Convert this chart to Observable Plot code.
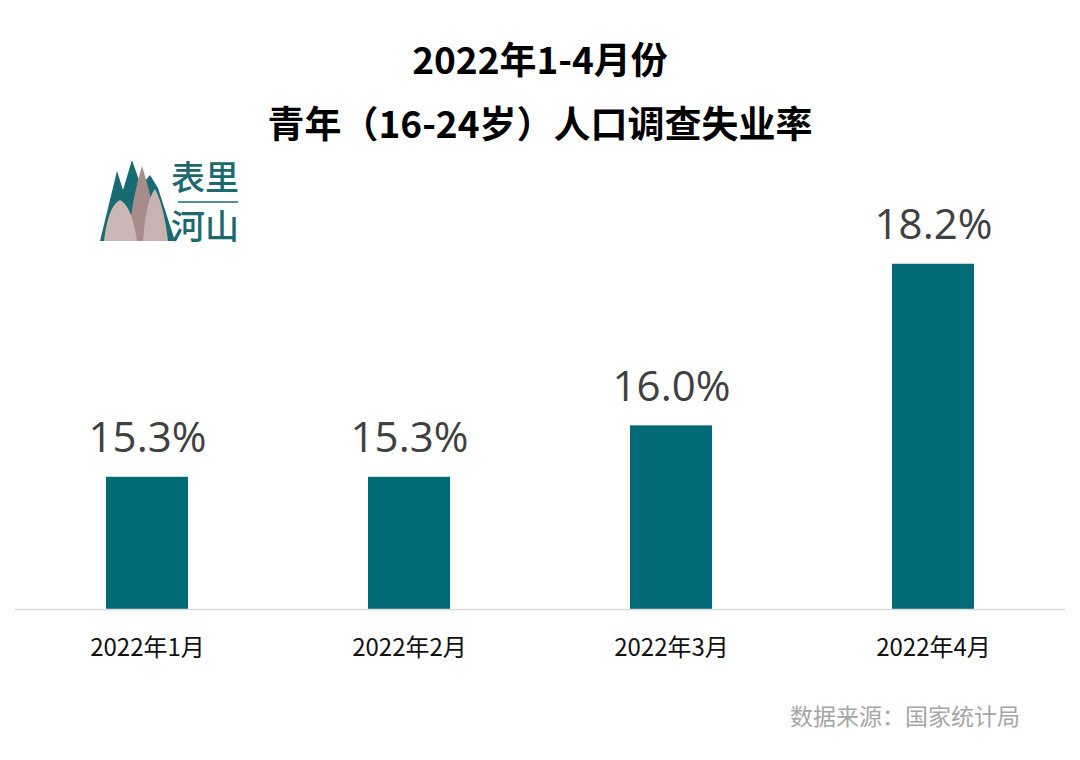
<!DOCTYPE html>
<html>
<head>
<meta charset="utf-8">
<script src="https://cdn.jsdelivr.net/npm/d3@7"></script>
<script src="https://cdn.jsdelivr.net/npm/@observablehq/plot@0.6"></script>
<style>
  html, body { margin: 0; padding: 0; background: #fff; }
  body { width: 1080px; height: 760px; position: relative; overflow: hidden; font-family: "Noto Sans CJK SC", "Noto Sans", sans-serif; }
  .title { position: absolute; left: 0; width: 1080px; text-align: center; font-weight: 700; font-size: 37px; line-height: 44px; color: #000; }
  #t1 { top: 36px; }
  #t2 { top: 100px; }
  #chart { position: absolute; left: 0; top: 150px; }
  #logo { position: absolute; left: 95px; top: 150px; }
  #caption { position: absolute; right: 60px; top: 700px; font-size: 23px; line-height: 30px; color: #a6a6a6; }
</style>
</head>
<body>
<div class="title" id="t1">2022年1-4月份</div>
<div class="title" id="t2">青年（16-24岁）人口调查失业率</div>
<svg id="logo" width="160" height="100" viewBox="95 150 160 100">
  <path d="M100,241 L117,171 L123,190 L132,160 L141,186 L150,175 L158,188 L175,241 Z" fill="#176b72"/>
  <path d="M128,241 Q132,198 142,166 Q153,200 159,241 Z" fill="#a68d89"/>
  <path d="M104,241 Q108,206 120,200 Q132,206 137,241 Z" fill="#cbb7b3"/>
  <path d="M143,241 Q146,200 155,189 Q164,206 168,241 Z" fill="#c7b3af"/>
  <text x="171" y="190" font-size="34" font-weight="500" fill="#1d6a6e" font-family="Noto Sans CJK SC">表里</text>
  <line x1="178" x2="238" y1="202" y2="202" stroke="#1d6a6e" stroke-width="1.5"/>
  <text x="171" y="239" font-size="34" font-weight="500" fill="#1d6a6e" font-family="Noto Sans CJK SC">河山</text>
</svg>
<div id="chart"></div>
<div id="caption">数据来源：国家统计局</div>
<script>
const months = ["2022年1月", "2022年2月", "2022年3月", "2022年4月"];
const rates = [15.3, 15.3, 16.0, 18.2];
const yFloor = 13.5;
const yCeil = 19;

const data = months.map((m, i) => ({month: m, rate: rates[i]}));

const chart = Plot.plot({
  width: 1080,
  height: 520,
  marginLeft: 15,
  marginRight: 15,
  marginTop: 55,
  marginBottom: 61,
  x: {domain: months, paddingInner: 0.6876, paddingOuter: 0.3438, label: null},
  y: {domain: [yFloor, yCeil], axis: null},
  style: {fontFamily: "Noto Sans CJK SC, sans-serif", background: "transparent"},
  marks: [
    Plot.barY(data, {x: "month", y1: yFloor, y2: "rate", fill: "#036b77"}),
    Plot.ruleY([yFloor], {stroke: "#d9d9d9", strokeWidth: 1.5}),
    Plot.text(data, {x: "month", y: "rate", text: d => d.rate.toFixed(1) + "%", dy: -25, lineAnchor: "bottom", fontSize: 42, fill: "#404040", fontFamily: "Open Sans, sans-serif"}),
    Plot.axisX({tickSize: 0, tickPadding: 29, fontSize: 24, fill: "#111", label: null})
  ]
});
document.getElementById("chart").appendChild(chart);
</script>
</body>
</html>
